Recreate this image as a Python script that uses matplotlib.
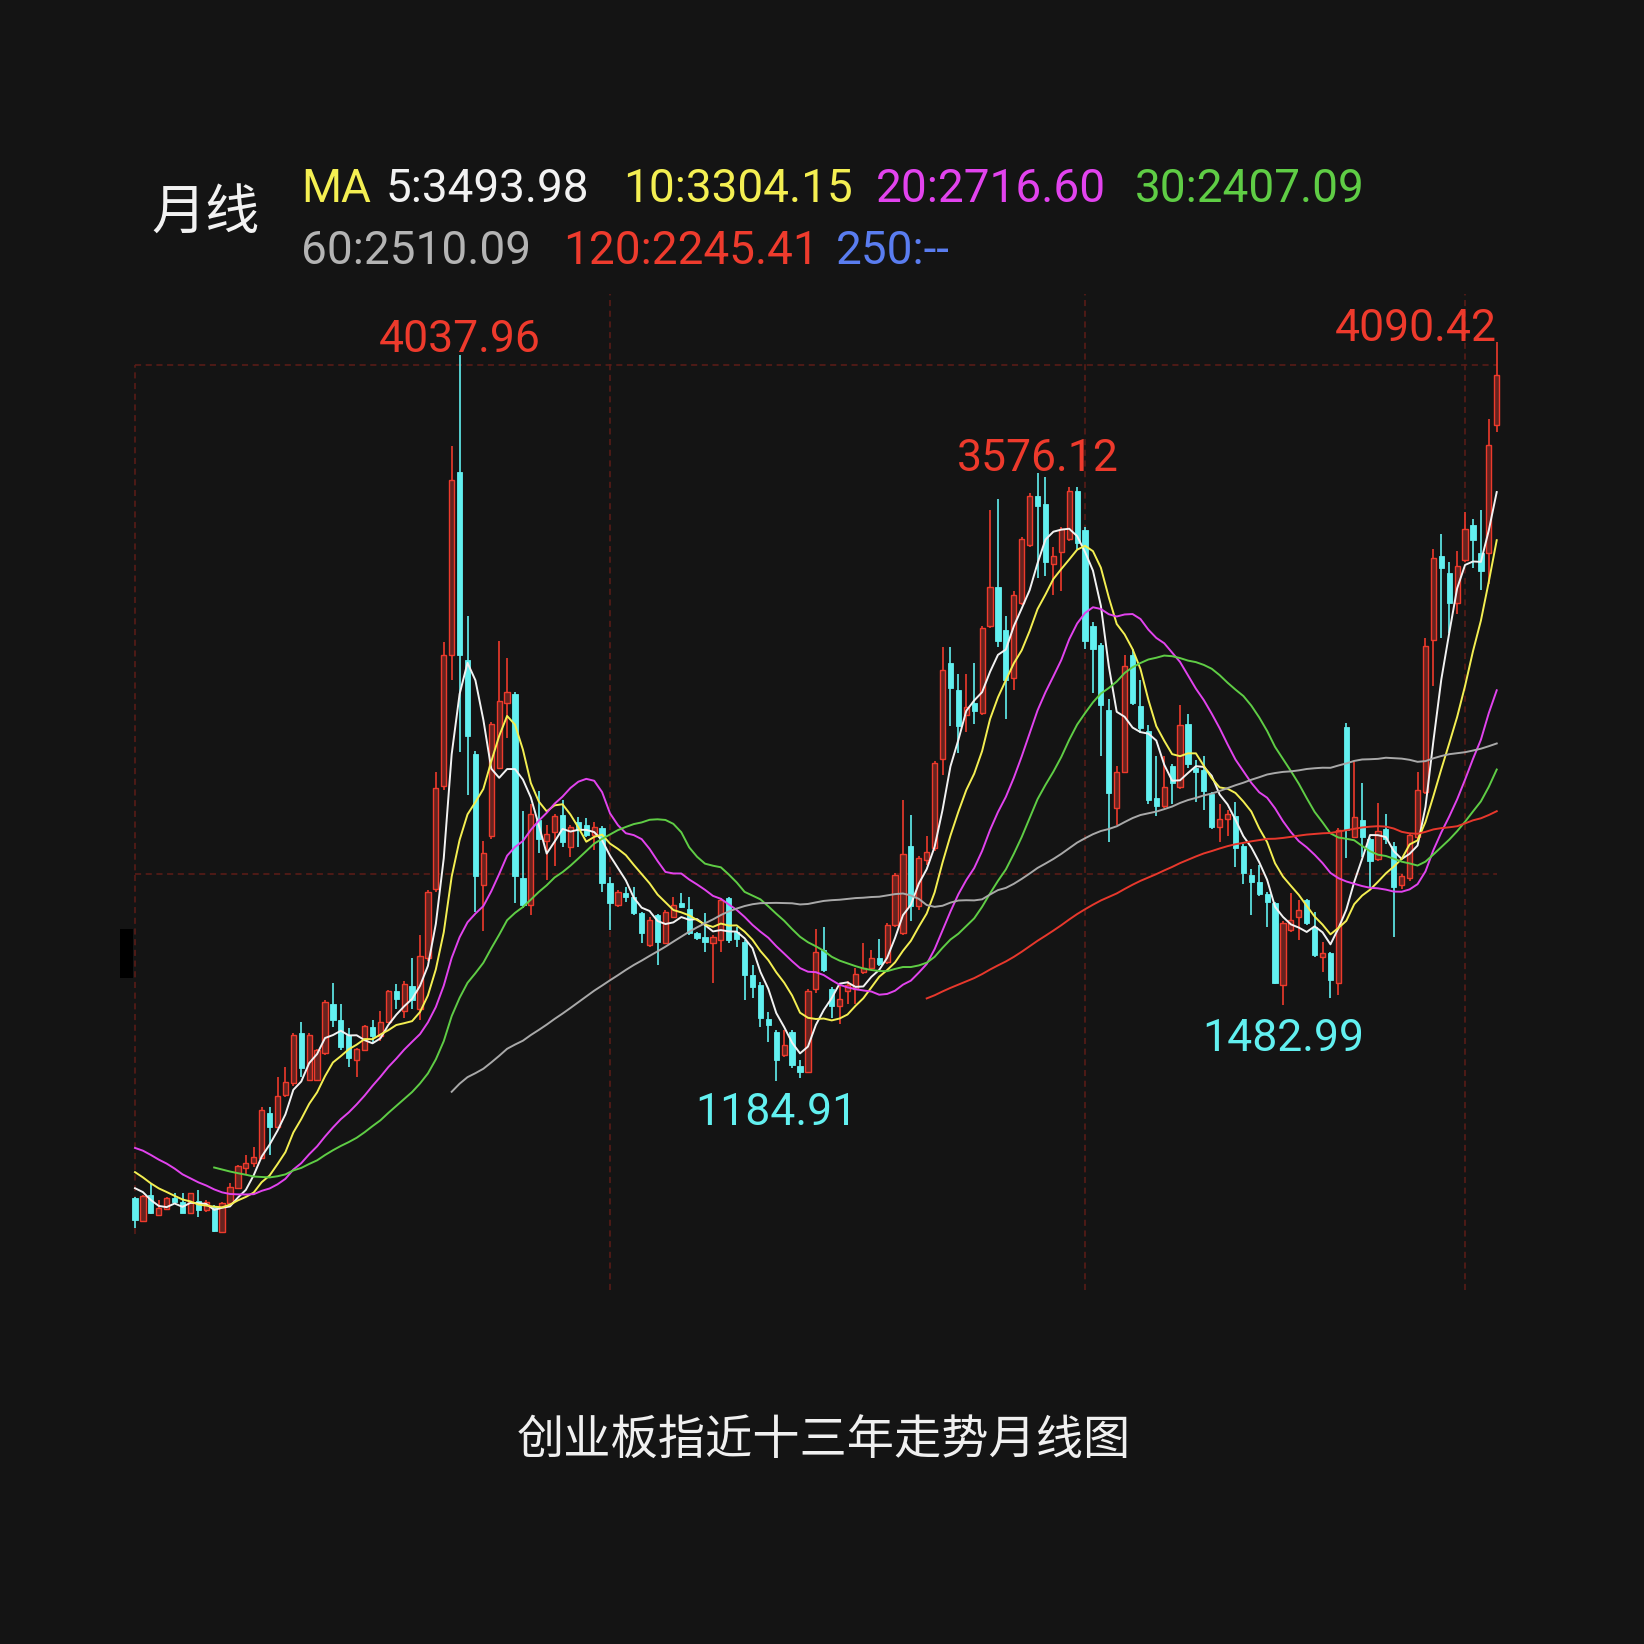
import numpy as np
import matplotlib
matplotlib.use("Agg")
import matplotlib.pyplot as plt
from matplotlib.patches import Rectangle

# ---------------- data (monthly candles, Jan 2012 ...) ----------------
# 19 months before the visible window (only used to compute moving averages)
prior_closes = [950, 1000, 1050, 1040, 1100, 1120, 1060, 990, 960, 900,
                940, 900, 880, 870, 860, 810, 820, 800, 750]

opens = [724, 636, 737, 658, 680, 726, 710, 665, 712, 678,
         694, 593, 707, 763, 842, 861, 881, 1060, 1005, 1130,
         1177, 1372, 1189, 1189, 1293, 1487, 1424, 1366, 1267, 1307,
         1397, 1361, 1415, 1537, 1460, 1559, 1469, 1667, 1938, 2344,
         2858, 3580, 2840, 2470, 1956, 2146, 2416, 2669, 2705, 1983,
         1875, 2209, 2127, 2164, 2230, 2106, 2204, 2191, 2152, 2178,
         1962, 1877, 1922, 1909, 1844, 1719, 1837, 1726, 1831, 1886,
         1860, 1765, 1752, 1729, 1739, 1903, 1772, 1732, 1601, 1562,
         1427, 1379, 1287, 1379, 1245, 1221, 1546, 1701, 1546, 1481,
         1538, 1546, 1612, 1628, 1669, 1652, 1799, 1766, 2109, 1872,
         2052, 2100, 2451, 2826, 2720, 2622, 2671, 2630, 2972, 3127,
         2956, 2769, 3062, 3290, 3485, 3453, 3217, 3265, 3314, 3502,
         3349, 2973, 2898, 2642, 2258, 2401, 2860, 2657, 2559, 2296,
         2266, 2424, 2341, 2589, 2416, 2409, 2311, 2183, 2213, 2228,
         2108, 1995, 1965, 1920, 1883, 1562, 1780, 1831, 1896, 1791,
         1673, 1687, 1569, 2577, 2145, 2211, 2134, 2058, 2177, 2109,
         1955, 1981, 2143, 2322, 2918, 3250, 3182, 3063, 3233, 3370,
         3259, 3259, 3762]
highs = [730, 737, 783, 717, 730, 743, 743, 746, 756, 717,
         697, 710, 783, 855, 894, 927, 1084, 1084, 1202, 1241,
         1372, 1418, 1372, 1310, 1503, 1569, 1487, 1392, 1313, 1405,
         1424, 1460, 1541, 1568, 1577, 1667, 1758, 1935, 2398, 2912,
         3679, 4037.96, 3012, 2480, 2127, 2595, 2916, 2849, 2715, 2245,
         2272, 2326, 2191, 2236, 2289, 2191, 2224, 2217, 2204, 2187,
         1988, 1935, 1949, 1949, 1850, 1831, 1840, 1856, 1909, 1922,
         1909, 1772, 1844, 1759, 1903, 1909, 1791, 1739, 1641, 1575,
         1457, 1385, 1385, 1385, 1269, 1546, 1783, 1791, 1555, 1563,
         1579, 1628, 1726, 1701, 1742, 1807, 2003, 2288, 2231, 2068,
         2149, 2443, 2891, 2891, 2785, 2785, 2826, 2972, 3428, 3472,
         3013, 3111, 3322, 3494, 3576.12, 3560, 3282, 3363, 3518, 3521,
         3364, 2988, 2905, 2687, 2424, 2860, 2883, 2762, 2582, 2461,
         2461, 2431, 2664, 2627, 2446, 2461, 2319, 2273, 2251, 2281,
         2115, 2018, 2033, 1928, 1890, 1815, 1922, 1896, 1899, 1850,
         1732, 1693, 2178, 2590, 2440, 2355, 2140, 2279, 2236, 2126,
         1998, 2160, 2398, 2927, 3276, 3336, 3225, 3268, 3421, 3395,
         3430, 3787, 4090.42]
lows = [606, 632, 662, 654, 678, 704, 665, 662, 652, 671,
        593, 589, 697, 759, 815, 848, 877, 894, 999, 1121,
        1167, 1202, 1185, 1185, 1287, 1398, 1307, 1241, 1202, 1304,
        1333, 1343, 1411, 1469, 1433, 1469, 1424, 1658, 1929, 2330,
        2759, 2479, 2308, 1848, 1776, 2137, 2410, 2533, 1884, 1866,
        1839, 2082, 1974, 2028, 2106, 2066, 2106, 2145, 2093, 1929,
        1778, 1870, 1890, 1837, 1726, 1713, 1641, 1723, 1824, 1863,
        1759, 1739, 1693, 1569, 1693, 1729, 1713, 1503, 1510, 1398,
        1339, 1184.91, 1280, 1235, 1196, 1215, 1530, 1612, 1432, 1408,
        1489, 1489, 1604, 1620, 1636, 1644, 1790, 1760, 1815, 1856,
        2035, 2090, 2386, 2581, 2475, 2557, 2589, 2622, 2964, 2891,
        2606, 2720, 3054, 3282, 3160, 3168, 3094, 3111, 3306, 3274,
        2883, 2710, 2461, 2123, 2191, 2394, 2664, 2552, 2273, 2228,
        2258, 2273, 2334, 2416, 2281, 2251, 2176, 2123, 2146, 2025,
        1958, 1837, 1912, 1792, 1566, 1482.99, 1770, 1739, 1798, 1673,
        1615, 1510, 1523, 2060, 2140, 2066, 1947, 2049, 2117, 1751,
        1940, 1972, 2134, 2313, 2739, 2927, 2944, 3020, 3225, 3199,
        3114, 3140, 3736]
closes = [638, 733, 665, 684, 726, 710, 667, 743, 678, 710,
          595, 707, 770, 852, 861, 885, 1071, 1005, 1127, 1182,
          1366, 1235, 1366, 1306, 1496, 1424, 1320, 1274, 1309, 1401,
          1361, 1418, 1537, 1509, 1568, 1505, 1676, 1929, 2335, 2858,
          3548, 2858, 2542, 1992, 2082, 2588, 2678, 2714, 1992, 1875,
          2236, 2136, 2154, 2227, 2125, 2184, 2171, 2152, 2184, 1962,
          1883, 1929, 1909, 1844, 1765, 1818, 1732, 1850, 1876, 1870,
          1765, 1745, 1732, 1752, 1896, 1739, 1741, 1601, 1555, 1431,
          1405, 1267, 1326, 1248, 1221, 1538, 1693, 1620, 1481, 1506,
          1563, 1604, 1628, 1669, 1644, 1799, 1995, 2076, 1872, 2060,
          2084, 2434, 2801, 2728, 2581, 2654, 2638, 2964, 3127, 2915,
          2760, 3094, 3314, 3485, 3445, 3225, 3249, 3355, 3502, 3300,
          2913, 2883, 2664, 2318, 2401, 2815, 2672, 2574, 2288, 2266,
          2341, 2356, 2582, 2431, 2401, 2326, 2183, 2213, 2236, 2100,
          2003, 1965, 1920, 1890, 1569, 1805, 1818, 1857, 1804, 1680,
          1687, 1582, 2171, 2171, 2224, 2143, 2049, 2168, 2134, 1947,
          1989, 2151, 2330, 2893, 3242, 3199, 3063, 3208, 3353, 3310,
          3191, 3685, 3958]

ma_periods = [5, 10, 20, 30, 60, 120]
legend_line1 = [("MA", "#f4ef52"), ("5:3493.98", "#f2f2f2"), ("10:3304.15", "#f4ef52"),
                ("20:2716.60", "#e243ee"), ("30:2407.09", "#5fcd45")]
legend_line2 = [("60:2510.09", "#b4b4b4"), ("120:2245.41", "#ee3b2d"), ("250:--", "#5a7df0")]
title_text = "创业板指近十三年走势月线图"
period_text = "月线"
grid_prices = [4000, 2000]
year_marks = [60, 120, 168]

# ---------------- style ----------------
W = H = 1644
DPI = 100
BG = "#141414"
RED = "#ee3a2c"
RED_FILL = "#66231f"
CYAN = "#62f0f0"
GRID = "#5e1c17"
ma_colors = {5: "#f2f2f2", 10: "#f4ef52", 20: "#e243ee", 30: "#5fcd45",
             60: "#a9a9a9", 120: "#e8382c"}
STEP = 7.917         # pixel spacing between candles
X0 = 135             # pixel x of first candle
PY0, P0 = 1081.0, 1184.91
PSCALE = 0.25446     # pixels per index point

CJK = ["Noto Sans CJK SC", "DejaVu Sans"]
NUM = ["Roboto", "DejaVu Sans"]

fig = plt.figure(figsize=(W / DPI, H / DPI), dpi=DPI, facecolor=BG)
ax = fig.add_axes([0, 0, 1, 1])
ax.set_facecolor(BG)
ax.set_xlim(-X0 / STEP, (W - X0) / STEP)
ax.set_ylim(P0 - (H - PY0) / PSCALE, P0 + PY0 / PSCALE)
ax.axis("off")

n = len(closes)
idx = np.arange(n)
o = np.array(opens, float)
h = np.array(highs, float)
l = np.array(lows, float)
c = np.array(closes, float)

# dashed reference grid
ax.hlines(grid_prices, 0, n - 1, colors=GRID, linestyles=(0, (4, 3)), lw=1.1, zorder=1)
ax.vlines(0, min(lows) - 5, grid_prices[0], colors=GRID, linestyles=(0, (4, 3)), lw=1.1, zorder=1)
ax.vlines(year_marks, P0 - (1290 - PY0) / PSCALE, P0 + (PY0 - 294) / PSCALE,
          colors=GRID, linestyles=(0, (4, 3)), lw=1.1, zorder=1)

# candles
bw = 0.66
up = c >= o
ax.vlines(idx[up], l[up], h[up], colors=RED, lw=1.2, zorder=2)
ax.vlines(idx[~up], l[~up], h[~up], colors=CYAN, lw=1.2, zorder=2)
minh = 5.0
for i in range(n):
    lo, hi = min(o[i], c[i]), max(o[i], c[i])
    if hi - lo < minh:
        mid = (hi + lo) / 2
        lo, hi = mid - minh / 2, mid + minh / 2
    if up[i]:
        rect = Rectangle((i - bw / 2, lo), bw, hi - lo, facecolor=RED_FILL,
                         edgecolor=RED, lw=1.0, zorder=3)
    else:
        rect = Rectangle((i - bw / 2, lo), bw, hi - lo, facecolor=CYAN,
                         edgecolor=CYAN, lw=0.6, zorder=3)
    ax.add_patch(rect)

# moving averages (computed from closes, including the 19 earlier months)
allc = np.concatenate([np.array(prior_closes, float), c])
npre = len(prior_closes)
for p in ma_periods:
    ma = np.full(len(allc), np.nan)
    cs = np.cumsum(np.insert(allc, 0, 0))
    ma[p - 1:] = (cs[p:] - cs[:-p]) / p
    ax.plot(idx, ma[npre:], color=ma_colors[p], lw=1.4, zorder=4,
            solid_joinstyle="round")

# extreme labels
def lab(text, i, price, dy, color, ha="center"):
    ax.annotate(text, xy=(i, price), xytext=(0, dy), textcoords="offset pixels",
                ha=ha, va="baseline", color=color, fontsize=32, family=NUM, zorder=6)

lab("4037.96", 41, h[41], 3, RED)
lab("3576.12", 114, h[114], 2, RED)
lab("1184.91", 81, l[81], -44, CYAN)
lab("1482.99", 145, l[145], -46, CYAN)
lab("4090.42", n - 1, h[n - 1], 1, RED, ha="right")

# header texts
def ftext(x, y, s, **kw):
    fig.text(x / W, 1 - y / H, s, **kw)

ftext(151, 214, period_text, fontsize=39, color="#f2f2f2", family=CJK,
      fontweight="medium", ha="left", va="center")
xs1 = [301, 386, 623, 876, 1135]
for (s, col), x in zip(legend_line1, xs1):
    ftext(x, 202, s, fontsize=33, color=col, family=NUM, ha="left", va="baseline")
xs2 = [301, 563, 836]
for (s, col), x in zip(legend_line2, xs2):
    ftext(x, 264, s, fontsize=33, color=col, family=NUM, ha="left", va="baseline")

ftext(824, 1442, title_text, fontsize=34, color="#f0f0f0", family=CJK,
      ha="center", va="center")

# small black marker at the left edge
fig.patches.append(Rectangle((120 / W, 1 - 978 / H), 13 / W, 49 / H,
                             transform=fig.transFigure, facecolor="black",
                             edgecolor="none", zorder=5))

fig.savefig("out.png", dpi=DPI, facecolor=BG)
